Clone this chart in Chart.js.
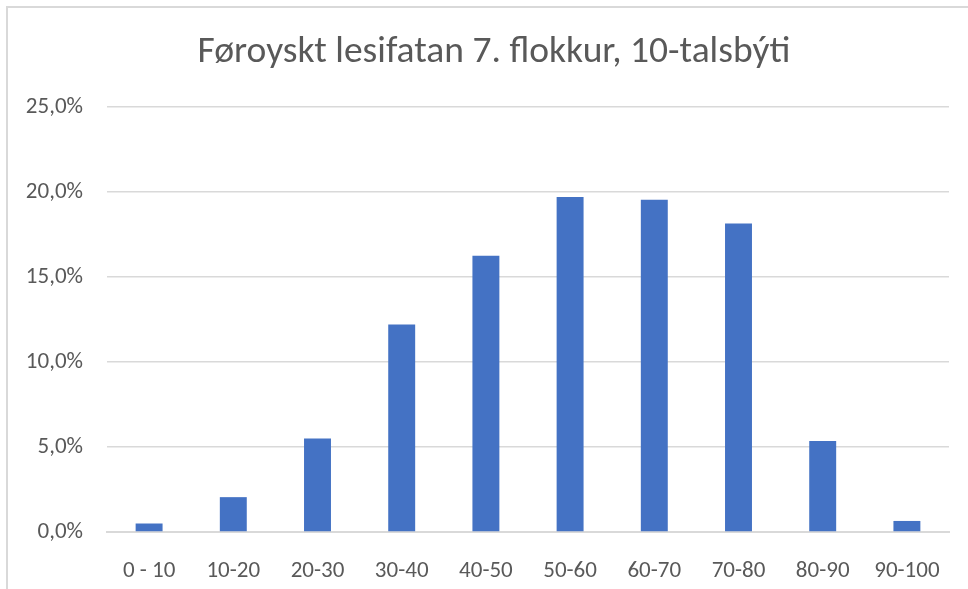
<!DOCTYPE html>
<html>
<head>
<meta charset="utf-8">
<script src="https://cdn.jsdelivr.net/npm/chart.js@4.4.1/dist/chart.umd.min.js"></script>
<style>
  html, body { margin: 0; padding: 0; background: #fff; overflow: hidden; }
  #frame { position: absolute; left: 6px; top: 6px; width: 1100px; height: 800px; border: 2px solid #d9d9d9; box-sizing: border-box; }
  #wrap { position: absolute; left: 0; top: 0; width: 968px; height: 589px; }
</style>
</head>
<body>
<div id="frame"></div>
<div id="wrap"><canvas id="chart"></canvas></div>
<script>
// Data
const title = 'Føroyskt lesifatan 7. flokkur, 10-talsbýti';
const categories = ['0 - 10', '10-20', '20-30', '30-40', '40-50', '50-60', '60-70', '70-80', '80-90', '90-100'];
const shares = [0.5, 2.05, 5.5, 12.2, 16.25, 19.7, 19.55, 18.15, 5.35, 0.65];
const yTicks = [0, 5, 10, 15, 20, 25];

const textColor = '#595959';
const gridColor = '#d9d9d9';
const font = "Calibri, Carlito, 'Open Sans', 'Liberation Sans', sans-serif";

// the original frame is wider than the picture, so its title sits a bit right of centre
const shiftTitle = {
  id: 'shiftTitle',
  afterLayout(chart) {
    if (chart.titleBlock) chart.titleBlock.left = 39;
  },
};

new Chart(document.getElementById('chart'), {
  type: 'bar',
  data: {
    labels: categories,
    datasets: [{
      data: shares,
      backgroundColor: '#4472C4',
      barPercentage: 0.32,
      categoryPercentage: 1,
    }],
  },
  options: {
    responsive: true, maintainAspectRatio: false,
    animation: false,
    layout: { padding: { left: 0, right: 19, top: 0, bottom: 0 } },
    plugins: {
      legend: { display: false },
      tooltip: { enabled: false },
      title: {
        display: true, text: title, color: textColor,
        font: { family: font, size: 37.5, weight: 'normal' },
        padding: { top: 30, bottom: 32 },
      },
    },
    scales: {
      x: {
        grid: { display: false },
        border: { color: gridColor, width: 2 },
        ticks: { color: textColor, font: { family: font, size: 23 }, padding: 17, maxRotation: 0 },
        afterFit: (s) => { s.height = 57; },
      },
      y: {
        min: 0, max: 25,
        afterBuildTicks: (s) => { s.ticks = yTicks.map(v => ({ value: v })); },
        grid: { color: gridColor, lineWidth: 1.5, drawTicks: false },
        border: { display: false },
        ticks: {
          color: textColor, font: { family: font, size: 23 }, padding: 24,
          callback: (v) => v.toFixed(1).replace('.', ',') + '%',
        },
        afterFit: (s) => { s.width = 107; },
      },
    },
  },
  plugins: [shiftTitle],
});
</script>
</body>
</html>
